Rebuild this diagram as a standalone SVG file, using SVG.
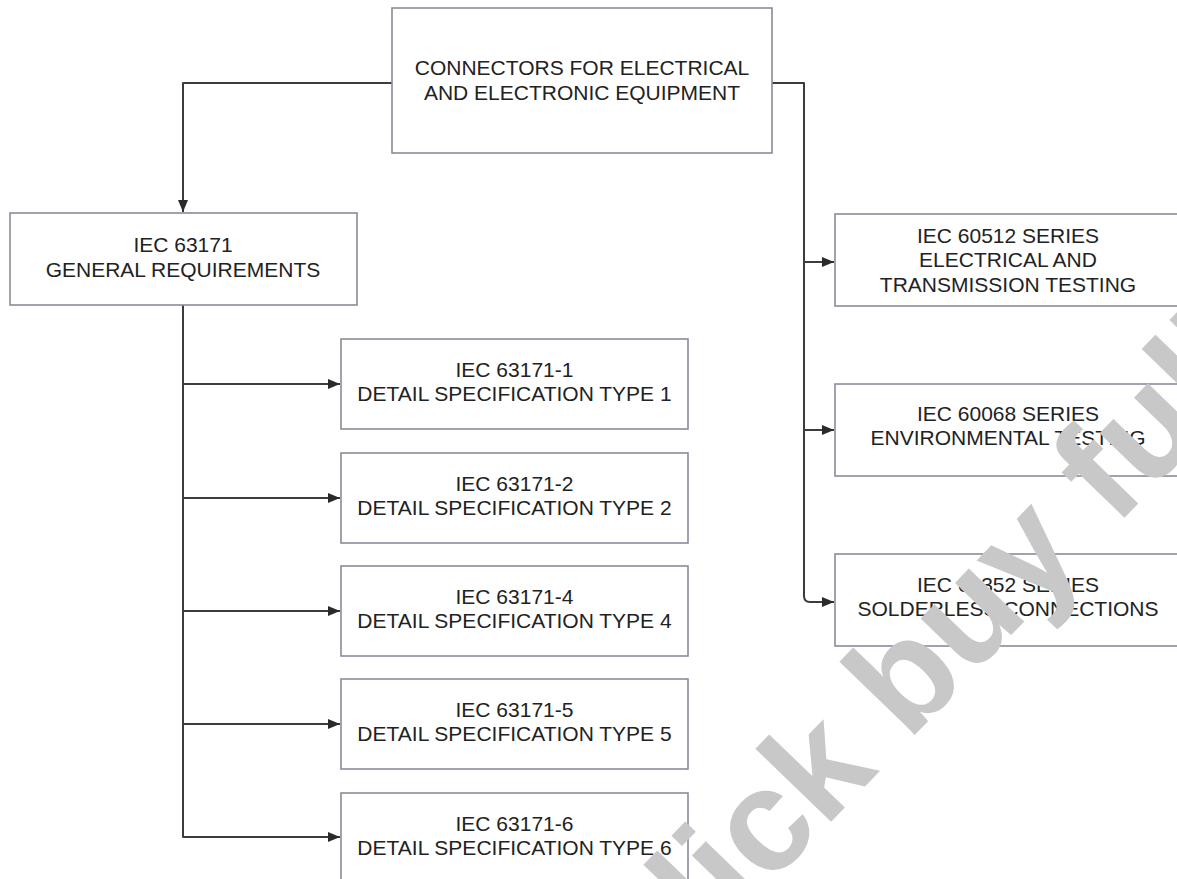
<svg xmlns="http://www.w3.org/2000/svg" width="1177" height="879" viewBox="0 0 1177 879">
<style>
.box{fill:#fff;stroke:#8c8a9c;stroke-width:1.6}
.t{font-family:"Liberation Sans",Arial,sans-serif;font-size:21px;fill:#222;text-anchor:middle}
.c{fill:none;stroke:#3c3c3c;stroke-width:2;stroke-linejoin:round}
.wm{font-family:"Liberation Sans",Arial,sans-serif;font-weight:bold;font-size:145px;fill:#c8c8c8}
</style>
<defs>
<marker id="ah" markerUnits="userSpaceOnUse" markerWidth="13" markerHeight="11" refX="12" refY="5" orient="auto">
<path d="M0,0 L12,5 L0,10 z" fill="#2a2a2a"/>
</marker>
</defs>
<rect width="1177" height="879" fill="#fff"/>
<g id="connectors">
<path class="c" d="M392,83 H183 V212" marker-end="url(#ah)"/>
<path class="c" d="M772,83 H804 V596 Q804,602 810,602 H834" marker-end="url(#ah)"/>
<path class="c" d="M804,262 H834" marker-end="url(#ah)"/>
<path class="c" d="M804,430 H834" marker-end="url(#ah)"/>
<path class="c" d="M183,305 V837 H340" marker-end="url(#ah)"/>
<path class="c" d="M183,384 H340" marker-end="url(#ah)"/>
<path class="c" d="M183,498 H340" marker-end="url(#ah)"/>
<path class="c" d="M183,611 H340" marker-end="url(#ah)"/>
<path class="c" d="M183,724 H340" marker-end="url(#ah)"/>
</g>
<g id="n-root"><rect class="box" x="392" y="8" width="380" height="145"/>
<text class="t" x="582" y="75">CONNECTORS FOR ELECTRICAL</text><text class="t" x="582" y="100">AND ELECTRONIC EQUIPMENT</text></g>
<g id="n-general"><rect class="box" x="10" y="213" width="347" height="92"/>
<text class="t" x="183" y="252">IEC 63171</text><text class="t" x="183" y="277">GENERAL REQUIREMENTS</text></g>
<g id="n-60512"><rect class="box" x="835" y="214" width="347" height="92"/>
<text class="t" x="1008" y="243">IEC 60512 SERIES</text><text class="t" x="1008" y="267">ELECTRICAL AND</text><text class="t" x="1008" y="292">TRANSMISSION TESTING</text></g>
<g id="n-60068"><rect class="box" x="835" y="384" width="347" height="92"/>
<text class="t" x="1008" y="421">IEC 60068 SERIES</text><text class="t" x="1008" y="445">ENVIRONMENTAL TESTING</text></g>
<g id="n-60352"><rect class="box" x="835" y="554" width="347" height="92"/>
<text class="t" x="1008" y="592">IEC 60352 SERIES</text><text class="t" x="1008" y="616">SOLDERLESS CONNECTIONS</text></g>
<g id="n-1"><rect class="box" x="341" y="339" width="347" height="90"/>
<text class="t" x="514.5" y="377">IEC 63171-1</text><text class="t" x="514.5" y="401">DETAIL SPECIFICATION TYPE 1</text></g>
<g id="n-2"><rect class="box" x="341" y="453" width="347" height="90"/>
<text class="t" x="514.5" y="491">IEC 63171-2</text><text class="t" x="514.5" y="515">DETAIL SPECIFICATION TYPE 2</text></g>
<g id="n-4"><rect class="box" x="341" y="566" width="347" height="90"/>
<text class="t" x="514.5" y="604">IEC 63171-4</text><text class="t" x="514.5" y="628">DETAIL SPECIFICATION TYPE 4</text></g>
<g id="n-5"><rect class="box" x="341" y="679" width="347" height="90"/>
<text class="t" x="514.5" y="717">IEC 63171-5</text><text class="t" x="514.5" y="741">DETAIL SPECIFICATION TYPE 5</text></g>
<g id="n-6"><rect class="box" x="341" y="793" width="347" height="90"/>
<text class="t" x="514.5" y="831">IEC 63171-6</text><text class="t" x="514.5" y="855">DETAIL SPECIFICATION TYPE 6</text></g>
<g id="watermark"><text class="wm" x="656" y="1003" transform="rotate(-46 656 1003)">click buy full</text></g>
</svg>
